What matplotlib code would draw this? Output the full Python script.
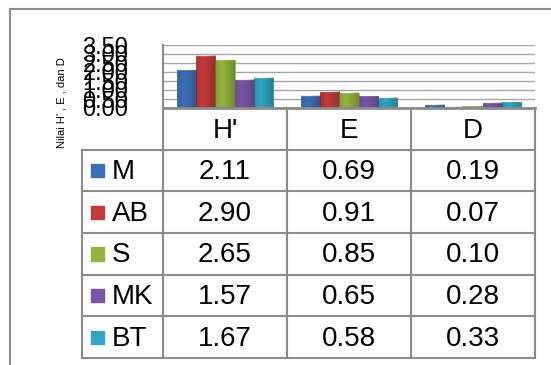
import matplotlib
matplotlib.use('Agg')
import matplotlib.pyplot as plt
from matplotlib.patches import Rectangle
import numpy as np

plt.rcParams['font.family'] = ['Liberation Sans', 'DejaVu Sans']

categories = ["H'", 'E', 'D']
series = ['M', 'AB', 'S', 'MK', 'BT']
M = [2.11, 0.69, 0.19]
AB = [2.90, 0.91, 0.07]
S = [2.65, 0.85, 0.10]
MK = [1.57, 0.65, 0.28]
BT = [1.67, 0.58, 0.33]
values = [M, AB, S, MK, BT]
yticks = [0.00, 0.50, 1.00, 1.50, 2.00, 2.50, 3.00, 3.50]
colors = ['#3a70b8', '#c43a3a', '#93b53e', '#7a55a6', '#2fa6c6']
ylabel = "Nilai H' , E , dan D"

W, H = 551, 365
fig = plt.figure(figsize=(W / 100, H / 100), dpi=100)


def px(x0, y0, x1, y1):
    # pixel box (top-left origin) -> figure fraction
    return [x0 / W, 1 - y1 / H, (x1 - x0) / W, (y1 - y0) / H]


# outer chart frame
fig.patches.append(Rectangle((10 / W, -0.1), 1.2, 1 - 9 / H + 0.1, transform=fig.transFigure,
                             fill=False, ec='#8c8c8c', lw=1.5))

# bar plot area
ax = fig.add_axes(px(163, 45, 535, 108))
nb = len(series)
bw = 0.77 / nb
for i, (name, vals) in enumerate(zip(series, values)):
    xs = np.arange(3) + 0.5 - 0.385 + bw * (i + 0.5)
    ax.bar(xs, vals, width=bw, color=colors[i], edgecolor=colors[i], lw=0.5, zorder=3)
    # shading to mimic cylinder look
    for x, v in zip(xs, vals):
        grad = np.linspace(0, 1, 20)
        img = np.zeros((1, 20, 4))
        img[..., 3] = 0.35 * np.abs(grad - 0.35)
        ax.imshow(img, extent=(x - bw / 2, x + bw / 2, 0, v), aspect='auto', zorder=4)
ax.set_xlim(0, 3)
ax.set_ylim(0, 3.5)
ax.set_yticks(yticks)
ax.set_yticklabels(['%.2f' % t for t in yticks], fontsize=17)
ax.tick_params(axis='y', length=0, pad=25)
ax.set_xticks([])
ax.grid(axis='y', color='#a6a6a6', lw=1, zorder=0)
for s in ['top', 'right', 'bottom']:
    ax.spines[s].set_visible(False)
ax.spines['left'].set_color('#8c8c8c')
ax.spines['left'].set_linewidth(1.5)
fig.text(62 / W, 1 - 103 / H, ylabel, rotation=90, ha='center', va='center', fontsize=8)

# data table
lw_col = 81 / 124
tab = fig.add_axes(px(82, 108, 535, 358))
tab.set_xlim(-lw_col, 3)
tab.set_ylim(0, 6)
tab.axis('off')
lc = '#8c8c8c'
tab.plot([0, 3], [6, 6], color=lc, lw=2, clip_on=False)
for x in range(4):
    tab.plot([x, x], [0, 6], color=lc, lw=1.5, clip_on=False)
for r in range(6):
    tab.plot([-lw_col, 3], [r, r], color=lc, lw=1.5, clip_on=False)
tab.plot([-lw_col, -lw_col], [0, 5], color=lc, lw=1.5, clip_on=False)
for j, c in enumerate(categories):
    tab.text(j + 0.5, 5.45, c, ha='center', va='center', fontsize=20)
for i, (name, vals) in enumerate(zip(series, values)):
    y = 4.5 - i
    tab.add_patch(Rectangle((-lw_col + 9 / 124, y - 0.16), 13 / 124, 0.32, color=colors[i], clip_on=False))
    tab.text(-lw_col + 30 / 124, y - 0.04, name, ha='left', va='center', fontsize=20)
    for j, v in enumerate(vals):
        tab.text(j + 0.5, y - 0.04, '%.2f' % v, ha='center', va='center', fontsize=20)

fig.savefig('out.png', dpi=100)
